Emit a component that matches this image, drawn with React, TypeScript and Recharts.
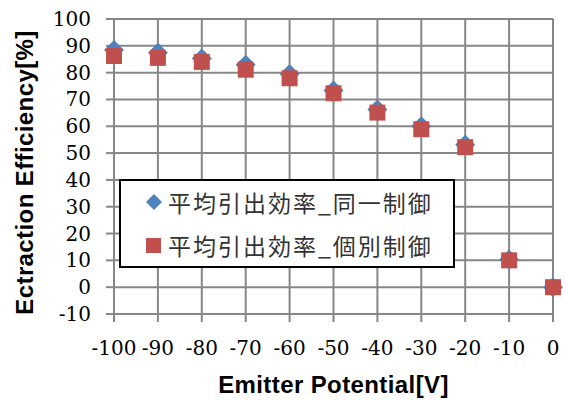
import React from 'react';
import { ScatterChart, Scatter, XAxis, YAxis, CartesianGrid, Legend } from 'recharts';

// emitter potential [V] and average extraction efficiency [%]
const potentials = [-100, -90, -80, -70, -60, -50, -40, -30, -20, -10, 0];
const sameControl = [88.4, 87.4, 85.3, 82.9, 79.5, 73.3, 66.3, 60.0, 53.1, 10.3, 0];
const individualControl = [86.2, 85.5, 84.0, 81.1, 77.9, 72.3, 65.1, 58.9, 52.2, 10.0, 0];

const xTicks = [-100, -90, -80, -70, -60, -50, -40, -30, -20, -10, 0];
const yTicks = [-10, 0, 10, 20, 30, 40, 50, 60, 70, 80, 90, 100];

const seriesNames = ['平均引出効率_同一制御', '平均引出効率_個別制御'];
const seriesColors = ['#4F81BD', '#C0504D'];

const gridColor = '#878787';
const tickFamily = 'DejaVu Serif, DejaVu Sans';
const titleFamily = 'Liberation Sans, Arial, sans-serif';

const toPoints = (ys: number[]) => potentials.map((x, i) => ({ x, y: ys[i] }));

const XTick = (props: any) => {
    const { x, y, payload } = props;
    return (
        <text x={x} y={y + 15} textAnchor="middle" fontFamily={tickFamily} fontSize={20} fill="#000">
            {payload.value}
        </text>
    );
};

const YTick = (props: any) => {
    const { x, y, payload } = props;
    return (
        <text x={x + 1} y={y + 7} textAnchor="end" fontFamily={tickFamily} fontSize={20} fill="#000">
            {payload.value}
        </text>
    );
};

const Diamond = (props: any) => {
    const { cx, cy, fill } = props;
    const r = 10;
    return <polygon points={`${cx},${cy - r} ${cx + r},${cy} ${cx},${cy + r} ${cx - r},${cy}`} fill={fill} />;
};

const Square = (props: any) => {
    const { cx, cy, fill } = props;
    const s = 16;
    return <rect x={cx - s / 2} y={cy - s / 2} width={s} height={s} fill={fill} />;
};

function LegendBox() {
    return (
        <div
            style={{
                position: 'relative',
                width: 332,
                height: 85,
                border: '2px solid #000',
                background: '#fff',
                boxSizing: 'content-box',
                fontFamily: '"Noto Sans CJK JP", sans-serif',
                fontSize: 23,
                letterSpacing: 2,
                color: '#333',
            }}
        >
            {seriesNames.map((name, i) => (
                <div key={name} style={{ position: 'absolute', left: 24, top: i === 0 ? 4 : 47, display: 'flex', alignItems: 'center', height: 34 }}>
                    <svg width={18} height={18} style={{ marginRight: 5 }}>
                        {i === 0 ? (
                            <polygon points="9,1 17,9 9,17 1,9" fill={seriesColors[0]} />
                        ) : (
                            <rect x={1} y={2} width={15} height={15} fill={seriesColors[1]} />
                        )}
                    </svg>
                    <span>{name}</span>
                </div>
            ))}
        </div>
    );
}

export default function App() {
    return (
        <div style={{ position: 'absolute', left: 0, top: 0, background: '#fff' }}>
            <ScatterChart width={566} height={400} margin={{ top: 19, right: 13, bottom: 0, left: 0 }}>
                <CartesianGrid stroke={gridColor} strokeWidth={2} />
                <XAxis
                    type="number"
                    dataKey="x"
                    domain={[-100, 0]}
                    ticks={xTicks}
                    interval={0}
                    height={86}
                    tickSize={8}
                    tickMargin={18}
                    tick={XTick}
                    axisLine={{ stroke: gridColor, strokeWidth: 2 }}
                    tickLine={{ stroke: gridColor, strokeWidth: 2 }}
                    label={{
                        content: (p: any) => {
                            const vb = p.viewBox;
                            return (
                                <text x={vb.x + vb.width / 2} y={393} textAnchor="middle" fontFamily={titleFamily} fontWeight="bold" fontSize={24} letterSpacing={0.4} fill="#000">
                                    Emitter Potential[V]
                                </text>
                            );
                        },
                    }}
                />
                <YAxis
                    type="number"
                    dataKey="y"
                    domain={[-10, 100]}
                    ticks={yTicks}
                    interval={0}
                    width={114}
                    tickSize={8}
                    tickMargin={16}
                    tick={YTick}
                    axisLine={{ stroke: gridColor, strokeWidth: 2 }}
                    tickLine={{ stroke: gridColor, strokeWidth: 2 }}
                    label={{
                        content: (p: any) => {
                            const vb = p.viewBox;
                            const cy = vb.y + vb.height / 2 + 6;
                            return (
                                <text x={33} y={cy} transform={`rotate(-90, 33, ${cy})`} textAnchor="middle" fontFamily={titleFamily} fontWeight="bold" fontSize={24} letterSpacing={0.4} fill="#000">
                                    Ectraction Efficiency[%]
                                </text>
                            );
                        },
                    }}
                />
                <Legend
                    layout="vertical"
                    align="center"
                    verticalAlign="middle"
                    wrapperStyle={{ position: 'absolute', left: 119, top: 179, width: 336, height: 89 }}
                    content={() => <LegendBox />}
                />
                <Scatter name={seriesNames[0]} data={toPoints(sameControl)} fill={seriesColors[0]} shape={Diamond} isAnimationActive={false} />
                <Scatter name={seriesNames[1]} data={toPoints(individualControl)} fill={seriesColors[1]} shape={Square} isAnimationActive={false} />
            </ScatterChart>
        </div>
    );
}
